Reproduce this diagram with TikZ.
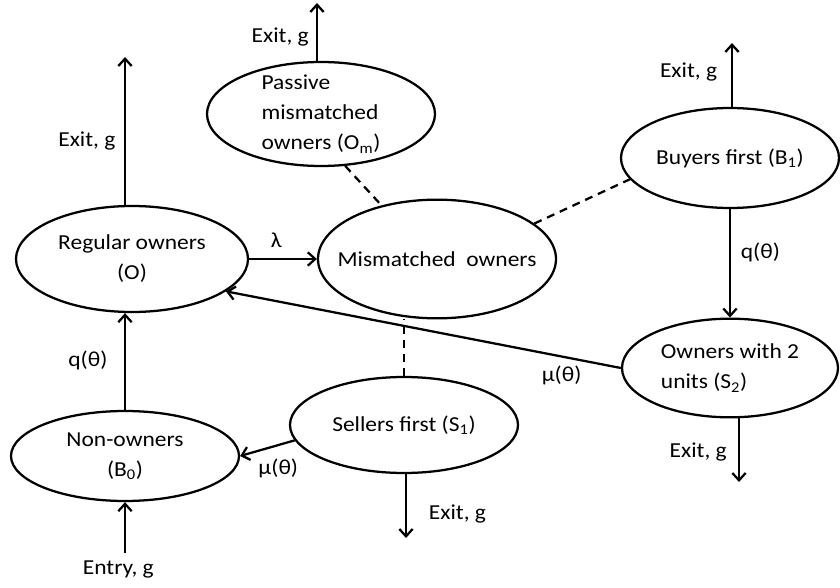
\documentclass[tikz,border=0pt]{standalone}
\usepackage{fontspec}
\setmainfont{Carlito}[FakeStretch=1.1]
\usetikzlibrary{shapes,arrows.meta,positioning}

\begin{document}
\begin{tikzpicture}[x=0.75pt, y=-0.75pt,
    state/.style={ellipse, draw, line width=1.7pt, inner xsep=-20pt, inner ysep=-10pt},
    flow/.style={-{Straight Barb[length=5.5pt,width=10pt]}, line width=1.7pt},
    link/.style={line width=1.7pt, dash pattern=on 6pt off 4.5pt},
    every node/.style={font=\fontsize{16}{22.5}\selectfont}]
    \useasboundingbox (0,0) rectangle (840,588);

    \node (O) [state, minimum width=174pt, minimum height=79.5pt, align=center] at (132,259) {Regular owners\\(O)};
    \node (Om) [state, minimum width=171pt, minimum height=78pt, align=left] at (321,114) {Passive\\mismatched\\owners (O\textsubscript{m})};
    \node (mis) [state, minimum width=178.5pt, minimum height=89pt] at (437,259) {Mismatched~ owners};
    \node (B1) [state, minimum width=163.5pt, minimum height=75pt] at (730,158) {Buyers first (B\textsubscript{1})};
    \node (S2) [state, minimum width=162pt, minimum height=74pt, align=left] at (730,368) {Owners with 2\\units (S\textsubscript{2})};
    \node (S1) [state, minimum width=171pt, minimum height=72pt] at (404,425) {Sellers first (S\textsubscript{1})};
    \node (B0) [state, minimum width=171pt, minimum height=67.5pt, align=center] at (125,456) {Non-owners\\(B\textsubscript{0})};

    \coordinate (Oout) at (125,57);
    \coordinate (Omout) at (317,3);
    \coordinate (B1out) at (732,43);
    \coordinate (S2out) at (739,482);
    \coordinate (S1out) at (406,538);
    \coordinate (B0in) at (125,553);

    \draw [flow] (Oout |- O.north) -- node[left=3pt, pos=.43] {Exit, g} (Oout);
    \draw [flow] (Omout |- Om.north) -- node[left=2pt, pos=.42] {Exit, g} (Omout);
    \draw [flow] (B1out |- B1.north) -- node[left=7pt, pos=.54] {Exit, g} (B1out);
    \draw [flow] (S2out |- S2.south) -- node[left=5pt, pos=.53] {Exit, g} (S2out);
    \draw [flow] (S1out |- S1.south) -- node[right=13pt, pos=.62] {Exit, g} (S1out);

    \draw [flow] (O.east) -- node[above=4pt, pos=.4] {λ} (mis.west);
    \draw [flow] (B1.south) -- node[right=4pt, pos=.4] {q(θ)} (S2.north);
    \draw [flow] (S2.west) -- node[below=3pt, pos=.15] {μ(θ)} (O.-19);
    \draw [flow] (S1.188) -- node[below=6pt, pos=.3] {μ(θ)} (B0.east);
    \draw [flow] (B0.north) -- node[left=9pt, pos=.51] {q(θ)} (B0.north |- O.south);
    \draw [flow] (B0in) node[below=2pt, xshift=-5pt] {Entry, g} -- (B0.south);

    \draw [link] (Om.-65) -- (mis.136);
    \draw [link] (mis.20) -- (B1.-168);
    \draw [link] (S1.north) -- (S1.north |- mis.south);
\end{tikzpicture}
\end{document}
